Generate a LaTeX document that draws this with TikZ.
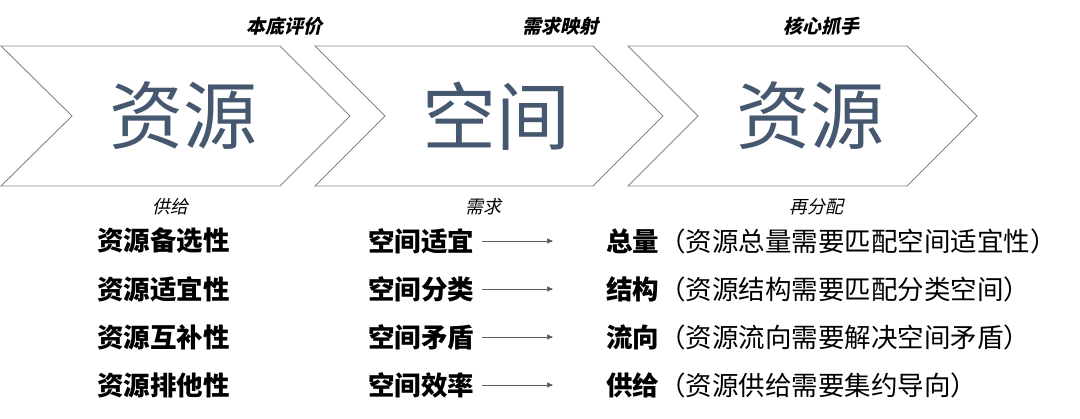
\documentclass[tikz,border=0pt]{standalone}
\usepackage{fontspec}
\setmainfont{Noto Sans CJK SC}
\newfontfamily\slfont{Noto Sans CJK SC}[FakeSlant=0.22]
\usetikzlibrary{arrows.meta}
\definecolor{bigtxt}{RGB}{70,88,112}
\definecolor{chevline}{RGB}{125,134,150}
\definecolor{arrgray}{RGB}{90,90,90}
\tikzset{
  chev/.style={draw=chevline, line width=0.9pt, fill=white, line join=miter},
  big/.style={font=\fontsize{74}{80}\selectfont, text=bigtxt, inner sep=0pt},
  toplabel/.style={font=\fontsize{19}{22}\slfont\bfseries, inner sep=0pt},
  sublabel/.style={font=\fontsize{18}{22}\slfont, inner sep=0pt},
  item/.style={font=\fontsize{26.5}{30}\selectfont\bfseries, inner sep=0pt, anchor=west},
  ritem/.style={font=\fontsize{26.5}{30}\selectfont, inner sep=0pt, anchor=west},
  arr/.style={draw=arrgray, line width=0.7pt, -{Triangle[length=6pt,width=5pt]}}
}
\begin{document}
\begin{tikzpicture}[x=1pt,y=-1pt]
\useasboundingbox (0,0) rectangle (1080,419);
% chevrons
\draw[chev] (1,46) -- (280,46) -- (350,116) -- (280,186) -- (1,186) -- (72,116) -- cycle;
\draw[chev] (315,46) -- (593,46) -- (663,116) -- (593,186) -- (315,186) -- (385,116) -- cycle;
\draw[chev] (628,46) -- (907,46) -- (977,116) -- (907,186) -- (628,186) -- (698,116) -- cycle;
% big texts
\node[big] (b1) at (183,116) {资源};
\node[big] (b2) at (496,116) {空间};
\node[big] (b3) at (810,116) {资源};
% top labels
\node[toplabel] (t1) at (284,26) {本底评价};
\node[toplabel] (t2) at (560,26) {需求映射};
\node[toplabel] (t3) at (821,26) {核心抓手};
% sub labels
\node[sublabel] (s1) at (170,207) {供给};
\node[sublabel] (s2) at (483,207) {需求};
\node[sublabel] (s3) at (816,207) {再分配};
% left column
\node[item] (l1) at (97,241) {资源备选性};
\node[item] (l2) at (97,289) {资源适宜性};
\node[item] (l3) at (97,337) {资源互补性};
\node[item] (l4) at (97,385) {资源排他性};
% middle column
\node[item] (m1) at (368,241) {空间适宜};
\node[item] (m2) at (368,289) {空间分类};
\node[item] (m3) at (368,337) {空间矛盾};
\node[item] (m4) at (368,385) {空间效率};
% right column
\node[ritem] (r1) at (606,241) {{\bfseries 总量}（资源总量需要匹配空间适宜性）};
\node[ritem] (r2) at (606,289) {{\bfseries 结构}（资源结构需要匹配分类空间）};
\node[ritem] (r3) at (606,337) {{\bfseries 流向}（资源流向需要解决空间矛盾）};
\node[ritem] (r4) at (606,385) {{\bfseries 供给}（资源供给需要集约导向）};
% arrows
\coordinate (e1) at (553,241);
\coordinate (e2) at (553,289);
\coordinate (e3) at (553,337);
\coordinate (e4) at (553,385);
\draw[arr] ([xshift=8pt]m1.east) -- (e1);
\draw[arr] ([xshift=8pt]m2.east) -- (e2);
\draw[arr] ([xshift=8pt]m3.east) -- (e3);
\draw[arr] ([xshift=8pt]m4.east) -- (e4);
\end{tikzpicture}
\end{document}
